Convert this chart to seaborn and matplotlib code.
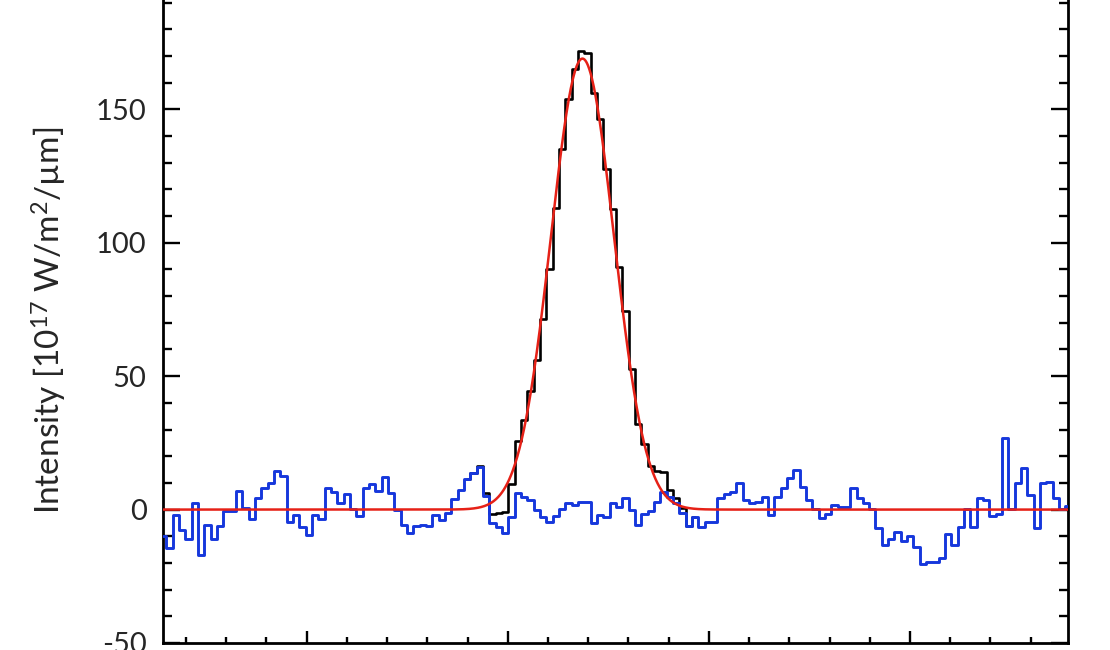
import numpy as np
import pandas as pd
import matplotlib
matplotlib.use("Agg")
import matplotlib.pyplot as plt
import seaborn as sns
from matplotlib.ticker import MultipleLocator

### spectrum values (channel units, x labels not shown) ###
channel_width = 0.03148
first_center = 0.2871

# residual (blue), one value per channel
residual = [
    -10.0, -14.4, -2.2, -7.5, -10.9, 2.5, -16.9, -5.6, -10.9, -6.2,
    -0.4, -0.6, 7.1, 0.6, -3.7, 4.4, 7.9, 10.0, 14.6, 12.7,
    -4.7, -2.2, -6.5, -9.4, -1.9, -3.5, 7.9, 6.5, 2.5, 5.8,
    0.4, -2.4, 7.9, 9.6, 7.1, 12.3, 6.3, -0.2, -5.8, -8.7,
    -6.2, -5.8, -6.2, -2.1, -3.9, -1.2, 3.8, 7.3, 11.3, 13.8,
    15.8, 5.0, -5.2, -6.4, -8.7, -2.9, 6.3, 4.6, 3.6, -0.2,
    -2.7, -4.6, -2.4, 0.4, 2.3, 1.7, 2.9, 2.9, -4.9, -2.1,
    -2.9, 2.3, 0.8, 4.2, 0.0, -5.8, -1.7, -0.4, 2.9, 6.7,
    4.6, 2.6, -1.4, -6.2, -2.7, -6.4, -4.6, -4.6, 4.2, 5.8,
    6.7, 10.1, 3.6, 2.3, 2.9, 4.6, -2.1, 4.6, 7.9, 11.7,
    14.9, 8.5, 3.6, 0.4, -3.3, -1.7, 1.7, 1.1, 0.8, 7.9,
    4.2, 2.3, 0.4, -7.0, -13.3, -11.2, -8.3, -11.7, -9.9, -14.2,
    -20.4, -19.6, -19.6, -18.3, -9.2, -13.3, -6.4, 0.4, -6.7, 4.4,
    3.6, -2.3, -1.8, 26.7, 0.4, 9.8, 15.4, 5.4, -7.0, 9.8,
    10.4, 4.2, 0.1, 1.3,
]

# observed line (black), channels around the emission line
line_start = 48
observed = [
    11.3, 13.8, 16.2, 6.1, -1.8, -1.3, -0.8, 9.4, 25.6, 33.4,
    44.4, 56.2, 71.5, 90.0, 113.1, 135.2, 153.7, 165.2, 171.9, 171.2,
    156.2, 146.2, 127.7, 112.7, 90.9, 74.4, 52.7, 32.2, 24.7, 16.5,
    14.5, 14.0, 7.5, 4.4, 0.5, -6.2, -2.7,
]

# gaussian fit (red)
fit_amp = 169.0
fit_center = 2.3714
fit_sigma = 0.1566

xlim = (0.2869, 4.7872)
ylim = (-50, 192)

x_all = first_center + channel_width * np.arange(len(residual))
x_line = first_center + channel_width * (line_start + np.arange(len(observed)))
resid_df = pd.DataFrame({"x": x_all, "y": residual})
obs_df = pd.DataFrame({"x": x_line, "y": observed})
x_fit = np.linspace(xlim[0], xlim[1], 2000)
fit_df = pd.DataFrame({
    "x": x_fit,
    "y": fit_amp * np.exp(-0.5 * ((x_fit - fit_center) / fit_sigma) ** 2),
})

### make the figure ###
sns.set_style("ticks")
plt.rcParams["font.family"] = ["Lato", "DejaVu Sans"]
plt.rcParams["mathtext.fontset"] = "custom"
plt.rcParams["mathtext.rm"] = "Lato"
plt.rcParams["mathtext.it"] = "Lato:italic"
plt.rcParams["mathtext.bf"] = "Lato:bold"
plt.rcParams["axes.unicode_minus"] = False

fig = plt.figure(figsize=(11.1, 6.5), dpi=100)
# the original is cropped: the plot runs up to the top edge of the picture
ax = fig.add_axes([0.1471, 0.01077, 0.8153, 0.9935])

sns.lineplot(data=obs_df, x="x", y="y", drawstyle="steps-mid", color="black",
             linewidth=1.9, estimator=None, ax=ax, zorder=2)
sns.lineplot(data=resid_df, x="x", y="y", drawstyle="steps-mid", color="#1637dc",
             linewidth=2.1, estimator=None, ax=ax, zorder=3)
sns.lineplot(data=fit_df, x="x", y="y", color="#e62117",
             linewidth=1.8, estimator=None, ax=ax, zorder=4)

ax.set_xlim(xlim)
ax.set_ylim(ylim)
ax.xaxis.set_major_locator(MultipleLocator(1))
ax.xaxis.set_minor_locator(MultipleLocator(0.2))
ax.yaxis.set_major_locator(MultipleLocator(50))
ax.yaxis.set_minor_locator(MultipleLocator(10))

ax.tick_params(which="both", direction="in", right=True, top=False,
               color="black", width=1.7)
ax.tick_params(axis="y", which="major", length=12.5, labelsize=21, pad=12)
ax.tick_params(axis="y", which="minor", length=6.2)
ax.tick_params(axis="x", which="major", length=9, labelbottom=False)
ax.tick_params(axis="x", which="minor", length=4.5)
ax.spines["top"].set_visible(False)
for side in ["bottom", "left", "right"]:
    ax.spines[side].set_linewidth(2.0)
    ax.spines[side].set_color("black")

ax.set_xlabel("")
ax.set_ylabel("Intensity [10$^{17}$ W/m$^{2}$/µm]", fontsize=24)
ax.yaxis.set_label_coords(-0.104, 0.5)

plt.savefig("out.png", dpi=100)
